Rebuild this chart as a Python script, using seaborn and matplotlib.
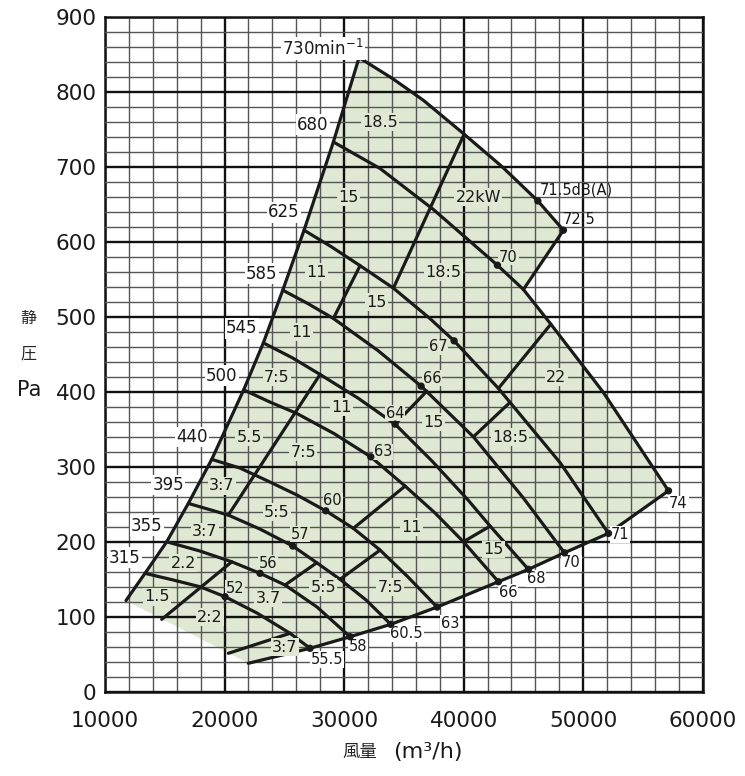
import numpy as np
import pandas as pd
import matplotlib
matplotlib.use("Agg")
import matplotlib.pyplot as plt
import seaborn as sns
from matplotlib.ticker import MultipleLocator

sns.set_style("white")
plt.rcParams["font.family"] = ["DejaVu Sans", "Noto Sans CJK JP"]

GREEN = "#dfe8d2"

# ---------------- data ----------------
rpm_names = ["315", "355", "395", "440", "500", "545", "585", "625", "680", "730"]
speed_q = [
    [13347, 15606, 17950, 20042, 22719, 25481, 27154],
    [15163, 17950, 20602, 22970, 25062, 27740, 30502],
    [16971, 20318, 22970, 25707, 27715, 29665, 31841, 33907],
    [18929, 21297, 23640, 26067, 28468, 30778, 33012, 35355, 37782],
    [21600, 23807, 26041, 29162, 32233, 35104, 37614, 39983, 42911],
    [23246, 25648, 27991, 31171, 34267, 37363, 40376, 42217, 45422],
    [24870, 26987, 29104, 32845, 36443, 40819, 45003, 48434],
    [26652, 28995, 31338, 34125, 37196, 39204, 42911, 48101, 52116],
    [29104, 33012, 37472, 42828, 45003, 47296, 51673, 57137],
    [31255, 34016, 36635, 39983, 43221, 46208, 48350],
]
speed_p = [
    [158.3, 149.8, 140.4, 127.1, 105.3, 78.3, 58.3],
    [200.4, 188.0, 173.7, 158.3, 142.7, 113.3, 73.7],
    [251.6, 236.0, 217.3, 194.7, 172.4, 150.3, 122.7, 90.3],
    [310.3, 298.7, 281.3, 262.7, 241.7, 218.3, 189.3, 153.3, 113.3],
    [403.0, 386.7, 371.6, 344.7, 313.7, 274.7, 238.7, 200.4, 147.1],
    [465.7, 446.0, 423.6, 392.0, 357.3, 308.0, 256.0, 221.3, 163.6],
    [536.0, 518.0, 498.3, 455.3, 408.0, 340.4, 258.7, 185.7],
    [616.0, 593.3, 568.7, 538.7, 498.0, 468.4, 405.0, 305.3, 211.6],
    [733.7, 698.3, 643.6, 569.3, 536.9, 490.7, 400.0, 268.4],
    [846.3, 818.7, 789.3, 744.9, 700.7, 655.1, 616.0],
]

left_q = [11757, 13347, 15163, 16971, 18929, 21600, 23246, 24870, 26652, 29104, 31255]
left_p = [122.0, 158.3, 200.4, 251.6, 310.3, 403.0, 465.7, 536.0, 616.0, 733.7, 846.3]

bottom_q = [21991, 27154, 30502, 33907, 37782, 42911, 45422, 48434, 52116, 57137]
bottom_p = [38.3, 58.3, 73.7, 90.3, 113.3, 147.1, 163.6, 185.7, 211.6, 268.4]

# power boundary segments: (q1, p1, q2, p2)
seg_q1 = [14745, 20318, 25062, 29665, 30778, 20318, 39983, 29104, 34267, 40819, 42911, 34125, 45003]
seg_p1 = [96.9, 51.6, 142.7, 150.3, 218.3, 236.0, 200.4, 498.3, 357.3, 340.4, 405.0, 538.7, 536.9]
seg_q2 = [20602, 25481, 27715, 33012, 35104, 27991, 42217, 31338, 36920, 43890, 47296, 40041, 48350]
seg_p2 = [173.7, 78.3, 172.4, 189.3, 274.7, 423.6, 221.3, 568.7, 401.3, 386.5, 490.7, 744.0, 616.0]

# power labels (kW)
kw_text = ["18.5", "15", "11", "22kW", "18:5", "15", "11", "7:5", "11", "5.5", "7:5", "15", "22",
           "18:5", "11", "15", "7:5", "5:5", "3.7", "3:7", "2:2", "1.5", "2.2", "3:7", "5:5", "3:7"]
kw_q = [33012, 30359, 27715, 41238, 38309, 32736, 26460, 24368, 29807, 22050, 26594, 37472, 47740,
        43890, 35665, 42493, 33849, 28267, 23665, 25062, 18786, 14326, 16552, 18368, 24368, 19765]
kw_p = [760, 660, 560, 660, 560, 520, 480, 420, 380, 340, 320, 360, 420,
        340, 220, 190, 140, 140, 125, 60, 100, 127, 172, 214, 240, 275]

# rpm labels
rpm_text = ["730min$^{-1}$", "680", "625", "585", "545", "500", "440", "395", "355", "315"]
rpm_q = [28240, 27381, 24979, 23113, 21439, 19765, 17255, 15297, 13489, 11674]
rpm_p = [858, 757, 640, 558, 485, 422, 340, 276, 222, 179]

# noise points dB(A)
db_mid_text = ["52", "56", "57", "60", "63", "64", "66", "67", "70", "71.5dB(A)", "72.5"]
db_mid_q = [20042, 22970, 25707, 28468, 32233, 34267, 36443, 39204, 42828, 46208, 48350]
db_mid_p = [127.1, 158.3, 194.7, 241.7, 313.7, 357.3, 408.0, 468.4, 569.3, 655.1, 616.0]
db_end_text = ["55.5", "58", "60.5", "63", "66", "68", "70", "71", "74"]
db_end_q = bottom_q[1:]
db_end_p = bottom_p[1:]

xticks = [10000, 20000, 30000, 40000, 50000, 60000]
yticks = [0, 100, 200, 300, 400, 500, 600, 700, 800, 900]

# ---------------- figure ----------------
W, H = 745, 776
fig = plt.figure(figsize=(W / 100, H / 100), dpi=100)
ax = fig.add_axes([105 / W, 1 - 692 / H, (702.7 - 105) / W, (692 - 17.3) / H])
ax.set_xlim(10000, 60000)
ax.set_ylim(0, 900)

# green operating region
poly_q = left_q + speed_q[9][1:] + [45003] + speed_q[8][5:] + bottom_q[::-1][1:]
poly_p = left_p + speed_p[9][1:] + [536.9] + speed_p[8][5:] + bottom_p[::-1][1:]
ax.fill(poly_q, poly_p, color=GREEN, lw=0, zorder=1)

# grid
ax.xaxis.set_major_locator(MultipleLocator(10000))
ax.xaxis.set_minor_locator(MultipleLocator(2000))
ax.yaxis.set_major_locator(MultipleLocator(100))
ax.yaxis.set_minor_locator(MultipleLocator(20))
ax.set_axisbelow(False)
ax.grid(which="major", color="#111111", lw=1.7, zorder=2)
ax.grid(which="minor", color="#555555", lw=1.0, zorder=2)
for s in ax.spines.values():
    s.set_linewidth(1.8)
    s.set_color("#111111")

# lines via seaborn
rows = []
for name, qs, ps in zip(rpm_names, speed_q, speed_p):
    for i, (q, p) in enumerate(zip(qs, ps)):
        rows.append(("n" + name, i, q, p))
for i, (q, p) in enumerate(zip(left_q, left_p)):
    rows.append(("left", i, q, p))
for i, (q, p) in enumerate(zip(bottom_q, bottom_p)):
    rows.append(("bottom", i, q, p))
for k in range(len(seg_q1)):
    rows.append(("seg%d" % k, 0, seg_q1[k], seg_p1[k]))
    rows.append(("seg%d" % k, 1, seg_q2[k], seg_p2[k]))
df = pd.DataFrame(rows, columns=["line", "order", "Q", "P"])
sns.lineplot(data=df, x="Q", y="P", units="line", estimator=None, sort=False,
             color="#1a1a1a", lw=2.3, ax=ax, legend=False, zorder=3)

# dots (above labels)
dots = pd.DataFrame({"Q": db_mid_q + db_end_q, "P": db_mid_p + db_end_p})
sns.scatterplot(data=dots, x="Q", y="P", color="#1a1a1a", s=28, edgecolor="none",
                ax=ax, zorder=8, legend=False)

ax.set_xlabel("")
ax.set_ylabel("")

# ticks
ax.set_xticks(xticks)
ax.set_xticklabels([str(v) for v in xticks])
ax.set_yticks(yticks)
ax.set_yticklabels([str(v) for v in yticks])
ax.tick_params(axis="both", which="minor", length=0)
ax.tick_params(axis="y", which="major", length=4, width=1.3, direction="out", pad=2,
               labelsize=15.5, colors="#1a1a1a")
ax.tick_params(axis="x", which="major", length=0, pad=14, labelsize=15.5, colors="#1a1a1a")

# kW labels
for t, q, p in zip(kw_text, kw_q, kw_p):
    ax.text(q, p, t, fontsize=11.5, ha="center", va="center", color="#1a1a1a", zorder=6,
            bbox=dict(boxstyle="square,pad=0.08", fc=GREEN, ec="none"))

# rpm labels
for t, q, p in zip(rpm_text, rpm_q, rpm_p):
    ax.text(q, p, t, fontsize=12, ha="center", va="center", color="#1a1a1a", zorder=6,
            bbox=dict(boxstyle="square,pad=0.08", fc="white", ec="none"))

# dB labels
mid_off = [(10, 8), (8, 10), (7, 12), (7, 10), (12, 5), (0, 11), (11, 8), (-16, -6), (11, 8),
           (38, 11), (16, 11)]
for t, q, p, (dx, dy) in zip(db_mid_text, db_mid_q, db_mid_p, mid_off):
    fc = GREEN if t not in ("71.5dB(A)", "72.5") else "none"
    ax.annotate(t, (q, p), xytext=(dx * 0.72, dy * 0.72), textcoords="offset points",
                fontsize=10.5, ha="center", va="center", color="#1a1a1a", zorder=6,
                bbox=dict(boxstyle="square,pad=0.05", fc=fc, ec="none"))
end_off = [(17, -11), (8, -10), (16, -9), (13, -16), (10, -11), (8, -9), (7, -10), (12, -1), (10, -13)]
for t, q, p, (dx, dy) in zip(db_end_text, db_end_q, db_end_p, end_off):
    ax.annotate(t, (q, p), xytext=(dx * 0.72, dy * 0.72), textcoords="offset points",
                fontsize=10.5, ha="center", va="center", color="#1a1a1a", zorder=6,
                bbox=dict(boxstyle="square,pad=0.05", fc="white", ec="none"))

# axis titles
cjk = ["Noto Sans CJK JP", "DejaVu Sans"]
fig.text(28 / W, 1 - 318 / H, "静", fontsize=11.5, family=cjk, ha="center", va="center")
fig.text(28 / W, 1 - 354 / H, "圧", fontsize=11.5, family=cjk, ha="center", va="center")
fig.text(29 / W, 1 - 390 / H, "Pa", fontsize=15, ha="center", va="center", color="#1a1a1a")
fig.text(360 / W, 1 - 752 / H, "風量", fontsize=12.5, family=cjk, ha="center", va="center")
fig.text(428 / W, 1 - 752 / H, "(m³/h)", fontsize=16, ha="center", va="center", color="#1a1a1a")

fig.savefig("out.png", dpi=100)
